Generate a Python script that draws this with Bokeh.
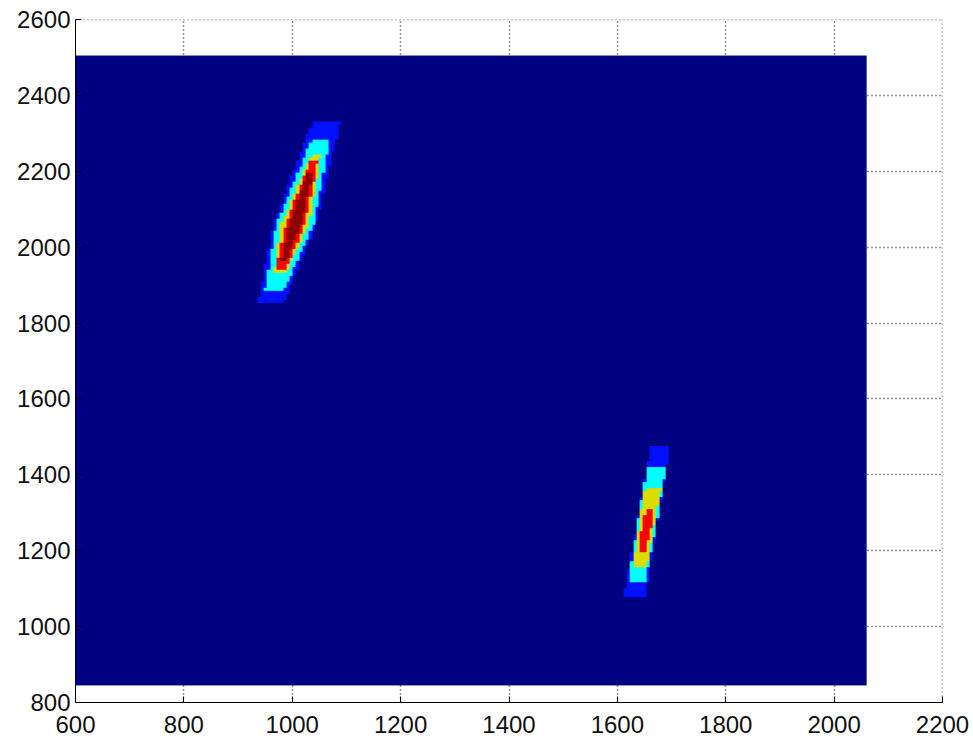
import numpy as np
from bokeh.plotting import figure
from bokeh.models import Range1d, FixedTicker, LinearColorMapper, Span
from bokeh.embed import file_html
from bokeh.resources import INLINE

# ---- data ------------------------------------------------------------------
# extent of the gridded field
field_x = [600, 2060]
field_y = [845, 2505]
cells_x = 244
cells_y = 208

# colour of each level (0 = background)
level_colors = ["#000080", "#0010FF", "#00FFFF", "#DCDC00", "#FF0000", "#8B0000"]

# ridge A (upper left): axis end points and the band of each level
ridge_a_axis_x = [960, 1063]
ridge_a_axis_y = [1851, 2329]
ridge_a_level = [1, 2, 3, 4, 5]
ridge_a_y_bottom = [1851, 1886, 1930, 1938, 1965]
ridge_a_y_middle = [2057, 2057, 2057, 2057, 2057]
ridge_a_y_top = [2331, 2278, 2242, 2223, 2197]
ridge_a_half_width_bottom = [24, 18, 11, 9, 6]
ridge_a_half_width_middle = [40, 35, 26, 18, 11]
ridge_a_half_width_top = [26, 17, 9, 7, 6]

# ridge B (lower right)
ridge_b_axis_x = [1631, 1679]
ridge_b_axis_y = [1076, 1474]
ridge_b_level = [1, 2, 3, 4]
ridge_b_y_bottom = [1076, 1116, 1158, 1200]
ridge_b_y_middle = [1266, 1266, 1266, 1266]
ridge_b_y_top = [1474, 1419, 1366, 1311]
ridge_b_half_width_bottom = [20, 15, 13, 6]
ridge_b_half_width_middle = [19, 18, 14, 9]
ridge_b_half_width_top = [18, 17, 15, 6]

x_ticks = [600, 800, 1000, 1200, 1400, 1600, 1800, 2000, 2200]
y_ticks = [800, 1000, 1200, 1400, 1600, 1800, 2000, 2200, 2400, 2600]

# ---- rasterise the level bands onto the cell grid -------------------------
dx = (field_x[1] - field_x[0]) / cells_x
dy = (field_y[1] - field_y[0]) / cells_y
xc = field_x[0] + dx * (np.arange(cells_x) + 0.5)
yc = field_y[0] + dy * (np.arange(cells_y) + 0.5)
X, Y = np.meshgrid(xc, yc)
levels = np.zeros_like(X, dtype=float)


def paint(axis_x, axis_y, lev, yb, ym, yt, wb, wm, wt):
    slope = (axis_x[1] - axis_x[0]) / (axis_y[1] - axis_y[0])
    centre = axis_x[0] + (Y - axis_y[0]) * slope
    for k, y0, y1, y2, w0, w1, w2 in zip(lev, yb, ym, yt, wb, wm, wt):
        half = np.interp(Y, [y0, y1, y2], [w0, w1, w2])
        inside = (Y >= y0) & (Y <= y2) & (np.abs(X - centre) <= half)
        levels[inside] = np.maximum(levels[inside], k)


paint(ridge_a_axis_x, ridge_a_axis_y, ridge_a_level, ridge_a_y_bottom,
      ridge_a_y_middle, ridge_a_y_top, ridge_a_half_width_bottom,
      ridge_a_half_width_middle, ridge_a_half_width_top)
paint(ridge_b_axis_x, ridge_b_axis_y, ridge_b_level, ridge_b_y_bottom,
      ridge_b_y_middle, ridge_b_y_top, ridge_b_half_width_bottom,
      ridge_b_half_width_middle, ridge_b_half_width_top)

# ---- figure -----------------------------------------------------------------
p = figure(width=973, height=740, output_backend="svg", toolbar_location=None,
           x_range=Range1d(600, 2200), y_range=Range1d(800, 2600),
           min_border_left=75, min_border_right=31,
           min_border_top=19, min_border_bottom=38)
p.background_fill_color = "white"
p.border_fill_color = "white"
p.outline_line_color = None

mapper = LinearColorMapper(palette=level_colors, low=-0.5, high=5.5)
p.image(image=[levels], x=field_x[0], y=field_y[0],
        dw=field_x[1] - field_x[0], dh=field_y[1] - field_y[0],
        color_mapper=mapper)

label_font = "'Liberation Sans', Arial, sans-serif"
for ax, ticks in ((p.xaxis[0], x_ticks), (p.yaxis[0], y_ticks)):
    ax.ticker = FixedTicker(ticks=ticks)
    ax.axis_line_color = "black"
    ax.axis_line_width = 1
    ax.major_tick_line_color = "black"
    ax.major_tick_in = 6
    ax.major_tick_out = 0
    ax.minor_tick_line_color = None
    ax.major_label_text_font = label_font
    ax.major_label_text_font_size = "24px"
    ax.major_label_text_color = "#111111"
p.xaxis[0].major_label_standoff = 13
p.yaxis[0].major_label_standoff = 5

grid_dash = "1 3"
for g, ticks in ((p.xgrid[0], x_ticks), (p.ygrid[0], y_ticks)):
    g.ticker = FixedTicker(ticks=ticks)
    g.grid_line_color = "black"
    g.grid_line_alpha = 0.85
    g.grid_line_dash = grid_dash
    g.grid_line_width = 1.5

# dotted lines along the far edges of the axes box
p.add_layout(Span(location=x_ticks[-1], dimension="height", line_color="black",
                  line_alpha=0.85, line_dash=grid_dash, line_width=1.5,
                  level="underlay"))
p.add_layout(Span(location=y_ticks[-1], dimension="width", line_color="black",
                  line_alpha=0.85, line_dash=grid_dash, line_width=1.5,
                  level="underlay"))

open("out.html", "w").write(file_html(p, INLINE))
